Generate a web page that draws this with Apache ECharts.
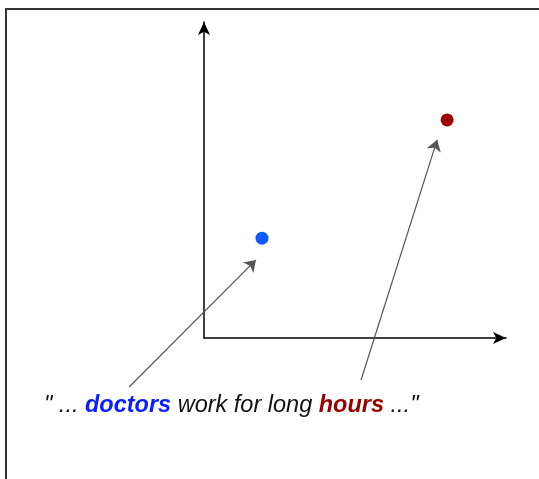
<!DOCTYPE html>
<html>
<head>
<meta charset="utf-8">
<script src="https://cdn.jsdelivr.net/npm/echarts@6/dist/echarts.min.js"></script>
<style>html,body{margin:0;padding:0;background:#fff}#c{width:539px;height:479px}</style>
</head>
<body>
<div id="c"></div>
<script>
// Points in a schematic 2D space (axes 0..100)
const words = ['doctors', 'hours'];
const pointX = [19.2, 80.5];
const pointY = [31.6, 69.0];
const pointColors = ['#0a5cff', '#a00000'];
// Arrows from the sentence words to the points
const arrowFromX = [-24.8, 52.0];
const arrowFromY = [-15.5, -13.3];
const arrowToX = [17.2, 77.2];
const arrowToY = [24.7, 62.7];

const chart = echarts.init(document.getElementById('c'), null, {renderer: 'canvas'});
const scatterData = words.map((w, i) => ({
  name: w, value: [pointX[i], pointY[i]], itemStyle: {color: pointColors[i], opacity: 1}
}));
const lineData = words.map((w, i) => ({
  coords: [[arrowFromX[i], arrowFromY[i]], [arrowToX[i], arrowToY[i]]]
}));
const FS = 23.5;
const FF = 'Liberation Sans, Arial, sans-serif';
chart.setOption({
  animation: false,
  backgroundColor: '#fff',
  grid: {left: 204, top: 22, width: 302, height: 316, containLabel: false},
  xAxis: {
    type: 'value', min: 0, max: 100,
    axisLine: {show: true, onZero: false, lineStyle: {color: '#000', width: 1.5}, symbol: ['none', 'arrow'], symbolSize: [9, 13]},
    axisTick: {show: false}, axisLabel: {show: false}, splitLine: {show: false}
  },
  yAxis: {
    type: 'value', min: 0, max: 100,
    axisLine: {show: true, onZero: false, lineStyle: {color: '#000', width: 1.5}, symbol: ['none', 'arrow'], symbolSize: [9, 13]},
    axisTick: {show: false}, axisLabel: {show: false}, splitLine: {show: false}
  },
  title: {
    left: 44, top: 394, padding: 0,
    text: '" ... {b|doctors} work for long {r|hours} ..."',
    textStyle: {
      fontFamily: FF, fontStyle: 'italic', fontWeight: 'normal',
      fontSize: FS, color: '#111',
      rich: {
        b: {fontFamily: FF, fontStyle: 'italic', fontWeight: 'bold', fontSize: FS, color: '#0a1eff'},
        r: {fontFamily: FF, fontStyle: 'italic', fontWeight: 'bold', fontSize: FS, color: '#990000'}
      }
    }
  },
  graphic: [{
    type: 'rect', silent: true,
    shape: {x: 6, y: 9, width: 700, height: 700},
    style: {fill: 'none', stroke: '#333', lineWidth: 2}
  }],
  series: [{
    type: 'lines', coordinateSystem: 'cartesian2d', clip: false,
    symbol: ['none', 'arrow'], symbolSize: 11,
    lineStyle: {color: '#555', width: 1.2, opacity: 1, curveness: 0},
    data: lineData, z: 1
  }, {
    type: 'scatter', symbol: 'circle', symbolSize: 13, clip: false,
    data: scatterData, z: 3
  }]
});
</script>
</body>
</html>
